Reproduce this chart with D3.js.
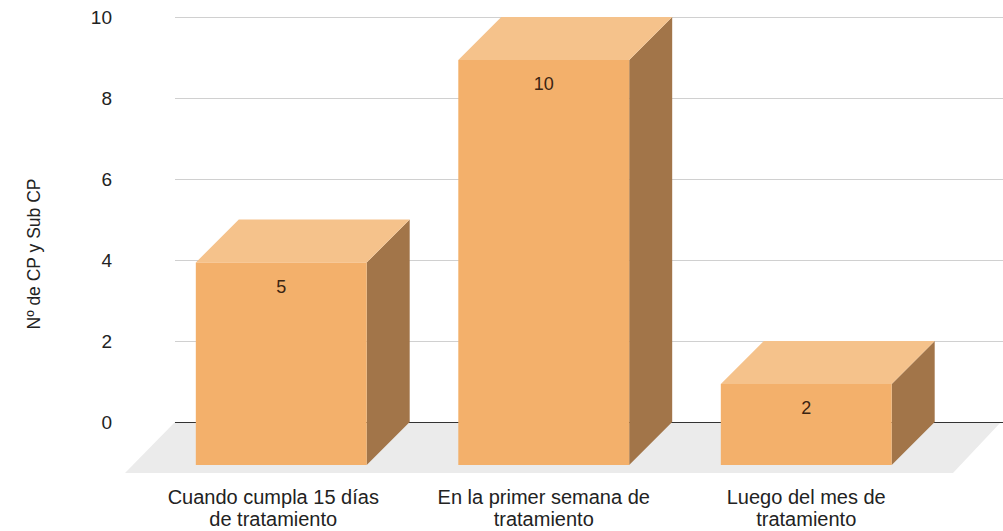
<!DOCTYPE html>
<html>
<head>
<meta charset="utf-8">
<script src="https://cdn.jsdelivr.net/npm/d3@7"></script>
<style>
  body { margin: 0; background: #fff; }
  text { font-family: "Liberation Sans", Arial, sans-serif; }
</style>
</head>
<body>
<div id="container"></div>
<script>
// data
const categories = [
    ["Cuando cumpla 15 días", "de tratamiento"],
    ["En la primer semana de", "tratamiento"],
    ["Luego del mes de", "tratamiento"]
];
const values = [5, 10, 2];
const yTicks = [0, 2, 4, 6, 8, 10];

const width = 1003;
const height = 531;
const depth = 43; // 3d offset of the bars

const svg = d3.select("#container").append("svg")
    .attr("width", width)
    .attr("height", height);

// y scale lives on the back wall
const y = d3.scaleLinear().domain([0, 10]).range([422, 17]);
const yFront = v => y(v) + depth;

// x scale on the front plane
const x = d3.scaleBand()
    .domain(d3.range(categories.length))
    .range([150, 937.5])
    .paddingInner(0.349)
    .paddingOuter(0.1745);

// floor
svg.append("polygon")
    .attr("points", [[125, 473], [175, 422], [1001, 422], [953, 473]].join(" "))
    .attr("fill", "#ebebeb");

// gridlines
svg.append("g")
    .selectAll("line")
    .data(yTicks)
    .join("line")
    .attr("x1", 175)
    .attr("x2", width)
    .attr("y1", d => Math.round(y(d)) + 0.5)
    .attr("y2", d => Math.round(y(d)) + 0.5)
    .attr("stroke", d => d === 0 ? "#333" : "#d0d0d0")
    .attr("stroke-width", 1);

// tick labels
svg.append("g")
    .selectAll("text")
    .data(yTicks)
    .join("text")
    .attr("x", 112)
    .attr("y", d => y(d))
    .attr("dy", "0.35em")
    .attr("text-anchor", "end")
    .attr("font-size", 19)
    .attr("fill", "#222")
    .text(d => d);

// axis title
svg.append("text")
    .attr("transform", "translate(40,254) rotate(-90)")
    .attr("text-anchor", "middle")
    .attr("font-size", 17.5)
    .attr("fill", "#222")
    .text("Nº de CP y Sub CP");

// bars
const bars = svg.append("g")
    .selectAll("g")
    .data(values)
    .join("g");

const bw = x.bandwidth();

bars.append("polygon") // side
    .attr("points", (d, i) => {
        const x0 = x(i) + bw, yt = yFront(d), yb = yFront(0);
        return [[x0, yt], [x0 + depth, yt - depth], [x0 + depth, yb - depth], [x0, yb]].join(" ");
    })
    .attr("fill", "#a27549");

bars.append("polygon") // top
    .attr("points", (d, i) => {
        const x0 = x(i), yt = yFront(d);
        return [[x0, yt], [x0 + depth, yt - depth], [x0 + bw + depth, yt - depth], [x0 + bw, yt]].join(" ");
    })
    .attr("fill", "#f5c28b");

bars.append("rect") // front
    .attr("x", (d, i) => x(i))
    .attr("y", d => yFront(d))
    .attr("width", bw)
    .attr("height", d => yFront(0) - yFront(d))
    .attr("fill", "#f3b06b");

bars.append("text")
    .attr("x", (d, i) => x(i) + bw / 2)
    .attr("y", d => yFront(d) + 24)
    .attr("dy", "0.35em")
    .attr("text-anchor", "middle")
    .attr("font-size", 18)
    .attr("fill", "#3b2412")
    .text(d => d);

// category labels
svg.append("g")
    .selectAll("text")
    .data(categories)
    .join("text")
    .attr("x", (d, i) => x(i) + bw / 2 - (i === 0 ? 8 : 0))
    .attr("y", 497)
    .attr("text-anchor", "middle")
    .attr("font-size", 20)
    .attr("fill", "#222")
    .each(function (d) {
        const t = d3.select(this);
        d.forEach((line, k) => {
            t.append("tspan")
                .attr("x", t.attr("x"))
                .attr("dy", k === 0 ? "0.35em" : 22)
                .text(line);
        });
    });
</script>
</body>
</html>
